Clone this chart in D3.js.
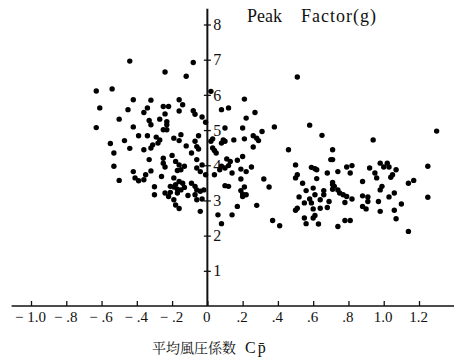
<!DOCTYPE html>
<html><head><meta charset="utf-8">
<script src="https://cdn.jsdelivr.net/npm/d3@7"></script>
<style>
html,body{margin:0;padding:0;background:#fff;}
svg{display:block;}
svg text{font-family:"Liberation Serif","Times New Roman",Tinos,Times,"DejaVu Serif",serif !important;fill:#111;}
svg text tspan.cjk{font-family:"Noto Serif CJK JP","Noto Sans CJK JP",sans-serif !important;}
</style></head>
<body>
<script>
// Mean pressure coefficient Cp (x) and peak factor g (y)
const cpValues = [
-0.63,-0.54,-0.61,-0.50,-0.63,-0.55,-0.53,-0.53,-0.50,-0.44,
-0.08,-0.24,-0.12,-0.42,-0.32,-0.25,-0.22,-0.16,-0.14,-0.16,
-0.34,-0.36,-0.45,-0.24,-0.08,-0.07,-0.27,-0.33,-0.32,-0.23,
-0.23,-0.03,-0.01,-0.42,-0.25,-0.23,-0.15,-0.19,-0.05,-0.39,
-0.34,-0.29,-0.27,-0.28,-0.31,-0.32,-0.16,-0.47,-0.12,-0.07,
-0.06,-0.05,-0.36,-0.44,-0.09,-0.33,-0.20,-0.25,-0.25,-0.24,
-0.18,-0.16,-0.13,-0.15,-0.17,-0.06,-0.03,-0.06,-0.04,-0.42,
-0.41,-0.39,-0.35,-0.36,-0.32,-0.26,-0.19,-0.16,-0.14,-0.18,
-0.21,-0.19,-0.17,-0.15,-0.13,-0.09,-0.07,-0.06,-0.04,-0.02,
-0.30,-0.30,-0.24,-0.22,-0.21,-0.17,-0.11,-0.07,-0.03,-0.06,
-0.19,-0.18,-0.16,-0.04,
0.02,0.21,0.08,0.12,0.27,0.22,0.10,0.20,0.38,0.31,
0.26,0.28,0.29,0.03,0.02,0.09,0.10,0.08,0.15,0.21,
0.26,0.03,0.04,0.05,0.46,0.20,0.17,0.11,0.13,0.12,
0.10,0.08,0.07,0.25,0.22,0.19,0.50,-0.01,0.04,0.14,
0.19,0.32,0.35,0.51,0.50,0.10,0.12,0.19,0.20,0.20,
0.22,0.21,0.17,0.28,0.52,0.51,0.50,0.06,0.14,0.08,
0.37,0.41,0.51,
0.58,0.65,0.71,0.70,0.71,0.59,0.61,0.62,0.68,0.74,
0.79,0.82,0.81,0.92,0.62,0.54,0.71,0.71,0.72,0.71,
0.88,0.74,0.75,0.56,0.60,0.66,0.66,0.61,0.77,0.79,
0.88,0.91,0.91,0.55,0.58,0.59,0.64,0.69,0.82,0.78,
0.60,0.64,0.68,0.88,0.90,0.61,0.60,0.55,0.56,0.63,
0.78,0.81,0.74,
1.30,0.94,0.98,1.00,1.02,1.03,1.07,1.05,1.04,0.95,
0.96,1.25,1.14,1.17,0.99,0.98,1.06,1.03,1.25,0.97,
1.10,0.98,1.06,1.07,1.14
];
const peakFactors = [
6.11,6.17,5.63,5.31,5.07,4.62,4.35,3.97,3.57,6.96,
6.92,6.65,6.53,5.86,5.85,5.67,5.67,5.86,5.72,5.54,
5.63,5.50,5.58,5.46,5.55,5.45,5.31,5.27,5.15,5.24,
5.15,5.37,5.22,5.09,5.01,5.01,4.87,4.77,4.84,4.84,
4.84,4.80,4.72,4.63,4.58,4.49,4.70,4.70,4.55,4.68,
4.53,4.46,4.44,4.48,4.35,4.16,4.28,4.20,4.06,3.95,
4.11,4.01,3.97,3.87,3.85,4.16,4.01,3.92,3.82,3.82,
3.64,3.56,3.73,3.59,3.84,3.68,3.64,3.54,3.49,3.45,
3.40,3.38,3.32,3.30,3.37,3.49,3.40,3.30,3.26,3.30,
3.39,3.16,3.21,3.11,3.23,3.21,3.14,3.16,3.04,3.02,
3.02,2.87,2.77,2.69,
6.10,5.88,5.58,5.63,5.50,5.34,5.06,5.06,5.09,4.96,
4.84,4.77,4.70,4.75,4.68,4.72,4.68,4.63,4.72,4.75,
4.52,4.49,4.42,4.35,4.44,4.25,4.14,4.18,4.11,3.99,
3.92,3.97,3.87,3.95,3.82,3.89,4.01,3.73,3.73,3.78,
3.61,3.61,3.38,3.73,3.64,3.42,3.40,3.28,3.18,3.11,
3.16,3.38,2.83,2.86,3.10,2.78,2.72,2.59,2.59,2.34,
2.43,2.28,6.51,
5.14,4.85,4.44,4.16,4.16,3.94,3.90,3.87,3.78,3.82,
3.95,3.99,3.78,3.92,3.62,3.49,3.51,3.45,3.40,3.32,
3.54,3.30,3.21,3.28,3.35,3.28,3.16,3.16,3.16,3.11,
3.13,3.10,2.97,2.93,3.04,2.93,3.02,2.97,3.04,2.94,
2.76,2.78,2.80,2.83,2.76,2.57,2.50,2.50,2.34,2.33,
2.43,2.43,2.26,
4.97,4.72,4.06,3.95,4.06,3.95,3.87,3.73,3.66,3.78,
3.64,3.97,3.49,3.57,3.40,3.30,3.21,3.10,3.09,2.97,
2.90,2.69,2.72,2.48,2.12
];
const xTickValues = [-1.0,-0.8,-0.6,-0.4,-0.2,0,0.2,0.4,0.6,0.8,1.0,1.2];
const xTickLabels = ["\u2212 1.0","\u2212 .8","\u2212 .6","\u2212 .4","\u2212 .2","0",".2",".4",".6",".8","1.0","1.2"];
const yTickValues = [1,2,3,4,5,6,7,8];
const yTickLabels = ["1","2","3","4","5","6","7","8"];
const titleWords = ["Peak","Factor(g)"];
const xAxisLabel = ["平均風圧係数","C","p\u0304"];

const W = 454, H = 364;
const svg = d3.select("body").append("svg").attr("width", W).attr("height", H);

const x = d3.scaleLinear().domain([-1.0, 1.2]).range([31, 419]);
const y = d3.scaleLinear().domain([0, 8]).range([306, 24.5]);

const points = cpValues.map((c, i) => ({cp: c, g: peakFactors[i]}));

// x axis
const xAxis = d3.axisBottom(x).tickValues(xTickValues)
  .tickFormat((d, i) => xTickLabels[i]).tickSizeInner(-5).tickSizeOuter(0).tickPadding(5);
const gx = svg.append("g").attr("transform", `translate(0,${y(0)})`).call(xAxis);
gx.attr("font-family", null);
gx.select(".domain").remove();
gx.selectAll(".tick line").attr("stroke", "#111").attr("stroke-width", 1.3);
gx.selectAll(".tick text").attr("font-size", 15).attr("fill", "#111").attr("dx", -1);
svg.append("line").attr("x1", x(-1.11)).attr("x2", W).attr("y1", y(0)).attr("y2", y(0))
  .attr("stroke", "#111").attr("stroke-width", 1.6);

// y axis
const yAxis = d3.axisRight(y).tickValues(yTickValues)
  .tickFormat((d, i) => yTickLabels[i]).tickSizeInner(3).tickSizeOuter(0).tickPadding(3);
const gy = svg.append("g").attr("transform", `translate(${x(0)},0)`).call(yAxis);
gy.attr("font-family", null);
gy.select(".domain").remove();
gy.selectAll(".tick line").attr("x1", -3.5).attr("x2", 3.5).attr("stroke", "#111").attr("stroke-width", 1.3);
gy.selectAll(".tick text").attr("font-size", 16).attr("fill", "#111");
svg.append("line").attr("x1", x(0)).attr("x2", x(0)).attr("y1", y(8.45)).attr("y2", y(0))
  .attr("stroke", "#111").attr("stroke-width", 2);

// points
svg.append("g").selectAll("circle").data(points).join("circle")
  .attr("cx", d => x(d.cp)).attr("cy", d => y(d.g)).attr("r", 2.7).attr("fill", "#000");

// title
const t = svg.append("text").attr("x", 247).attr("y", 22).attr("font-size", 18);
t.append("tspan").text(titleWords[0]);
t.append("tspan").attr("dx", 19).attr("letter-spacing", 1).text(titleWords[1]);

// x axis label
const xl = svg.append("text").attr("x", 152).attr("y", 353).attr("font-size", 14);
xl.append("tspan").attr("class", "cjk").text(xAxisLabel[0]);
xl.append("tspan").attr("dx", 9).attr("font-size", 16).attr("letter-spacing", 2).text(xAxisLabel[1]);
xl.append("tspan").attr("font-size", 16).text(xAxisLabel[2]);
</script>
</body></html>
